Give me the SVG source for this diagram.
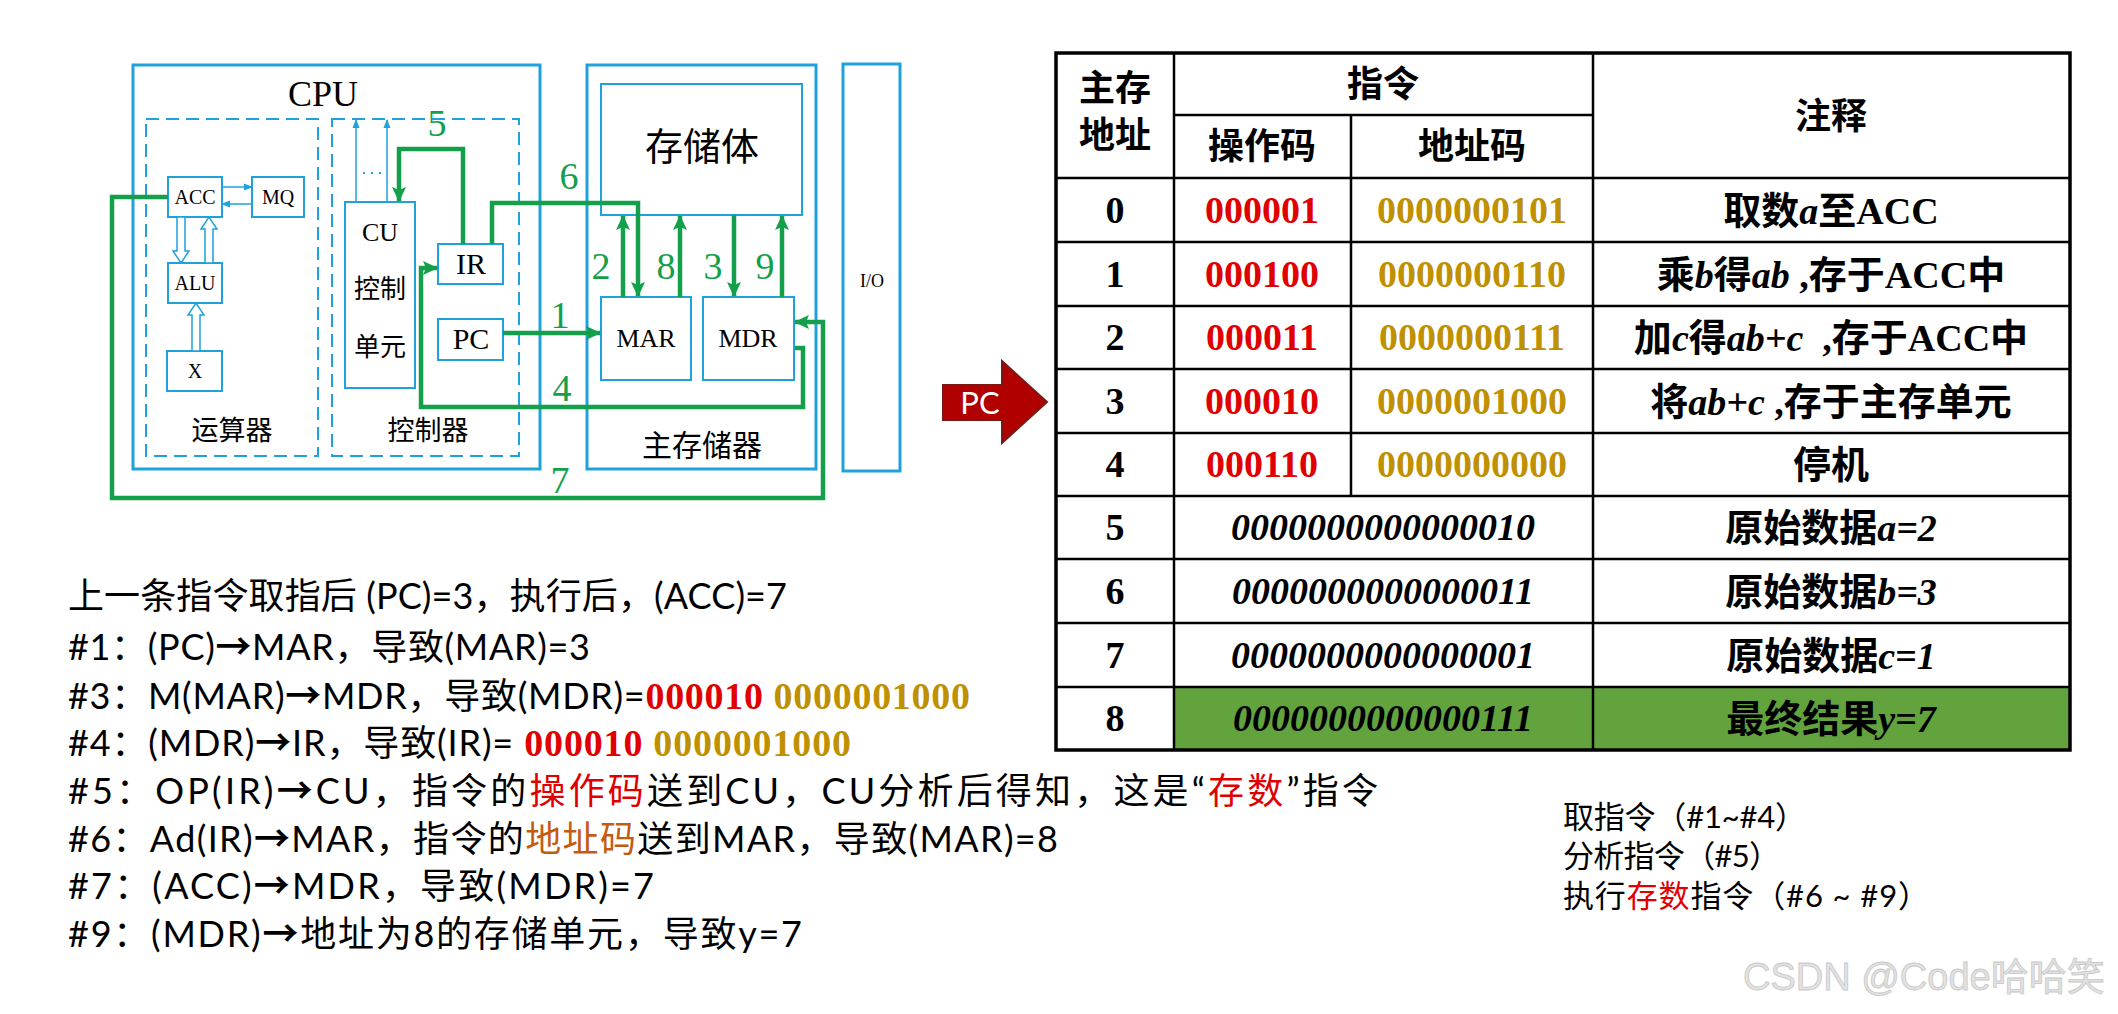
<svg xmlns="http://www.w3.org/2000/svg" width="2118" height="1014" viewBox="0 0 2118 1014">
<style>
.bx{fill:none;stroke:#1fa2dc;stroke-width:3}
.ib{fill:#fff;stroke:#1fa2dc;stroke-width:2}
.dash{fill:none;stroke:#1fa2dc;stroke-width:2;stroke-dasharray:13 7}
.g{fill:none;stroke:#14a04a;stroke-width:4.5;stroke-linejoin:miter}
.bl{fill:none;stroke:#1fa2dc;stroke-width:1.5}
.hol{fill:#fff;stroke:#1fa2dc;stroke-width:1.5}
.ser{font-family:"Liberation Serif","Noto Sans CJK SC",serif;fill:#000}
.num{font-family:"Liberation Serif",serif;fill:#14a04a;font-size:38px;text-anchor:middle}
.cj{font-family:"Noto Sans CJK SC",serif;fill:#000}
.tb{font-family:"Liberation Serif","Noto Sans CJK SC",serif;font-weight:bold;fill:#000;font-size:38px;text-anchor:middle}
.th{font-family:"Noto Sans CJK SC",serif;font-weight:bold;fill:#000;font-size:36px;text-anchor:middle}
.red{fill:#e00000}
.gold{fill:#bf9000}
.it{font-style:italic}
.tline{stroke:#000;stroke-width:2.5}
.body{font-family:Lato,"Noto Sans CJK SC",sans-serif;font-size:36px;fill:#000}
.bd{font-family:"Liberation Serif",serif;font-weight:bold}
.ar{font-family:"Noto Sans CJK SC",sans-serif;font-weight:bold}
.side{font-family:Lato,"Noto Sans CJK SC",sans-serif;font-size:31px;fill:#000}
</style>
<defs>
<marker id="ga" markerWidth="16" markerHeight="16" refX="14" refY="8" orient="auto" markerUnits="userSpaceOnUse"><path d="M0,1 L15,8 L0,15 L3,8 z" fill="#14a04a"/></marker>
<marker id="ba" markerWidth="9" markerHeight="8" refX="8" refY="4" orient="auto" markerUnits="userSpaceOnUse"><path d="M0,0.5 L9,4 L0,7.5 z" fill="#1fa2dc"/></marker>
</defs>
<rect width="2118" height="1014" fill="#fff"/>

<g id="cpu">
<rect class="bx" x="133" y="65" width="407" height="404"/>
<text class="ser" x="323" y="106" font-size="36" text-anchor="middle">CPU</text>
</g>
<g id="alu-unit">
<rect class="dash" x="146" y="119" width="172" height="337"/>
<text class="cj" x="232" y="440" font-size="27" text-anchor="middle">运算器</text>
</g>
<g id="ctrl-unit">
<rect class="dash" x="332" y="119" width="187" height="337"/>
<text class="cj" x="428" y="440" font-size="27" text-anchor="middle">控制器</text>
</g>
<g id="acc"><rect class="ib" x="168" y="177" width="54" height="40"/><text class="ser" x="195" y="204" font-size="20" text-anchor="middle">ACC</text></g>
<g id="mq"><rect class="ib" x="252" y="177" width="52" height="40"/><text class="ser" x="278" y="204" font-size="20" text-anchor="middle">MQ</text></g>
<g id="alu"><rect class="ib" x="168" y="263" width="54" height="40"/><text class="ser" x="195" y="290" font-size="20" text-anchor="middle">ALU</text></g>
<g id="x"><rect class="ib" x="167" y="351" width="55" height="40"/><text class="ser" x="195" y="378" font-size="20" text-anchor="middle">X</text></g>
<g id="cu"><rect class="ib" x="345" y="202" width="70" height="186"/>
<text class="ser" x="380" y="241" font-size="26" text-anchor="middle">CU</text>
<text class="cj" x="380" y="298" font-size="26" text-anchor="middle">控制</text>
<text class="cj" x="380" y="356" font-size="26" text-anchor="middle">单元</text></g>
<g id="ir"><rect class="ib" x="438" y="244" width="65" height="40"/><text class="ser" x="471" y="274" font-size="30" text-anchor="middle">IR</text></g>
<g id="pc"><rect class="ib" x="438" y="319" width="65" height="41"/><text class="ser" x="471" y="349" font-size="30" text-anchor="middle">PC</text></g>

<g id="mem">
<rect class="bx" x="587" y="65" width="229" height="404"/>
<text class="cj" x="702" y="456" font-size="30" text-anchor="middle">主存储器</text>
</g>
<g id="storage"><rect class="ib" x="601" y="84" width="201" height="131"/><text class="cj" x="702" y="160" font-size="38" text-anchor="middle">存储体</text></g>
<g id="mar"><rect class="ib" x="601" y="297" width="90" height="83"/><text class="ser" x="646" y="347" font-size="26" text-anchor="middle">MAR</text></g>
<g id="mdr"><rect class="ib" x="703" y="297" width="91" height="83"/><text class="ser" x="748" y="347" font-size="26" text-anchor="middle">MDR</text></g>
<g id="io"><rect class="bx" x="843" y="64" width="57" height="407"/><text class="ser" x="872" y="287" font-size="18" text-anchor="middle">I/O</text></g>

<g id="connectors">
<line class="bl" x1="222" y1="187" x2="252" y2="187" marker-end="url(#ba)"/>
<line class="bl" x1="252" y1="204" x2="222" y2="204" marker-end="url(#ba)"/>
<line class="bl" x1="356" y1="202" x2="356" y2="120" marker-end="url(#ba)"/>
<line class="bl" x1="387" y1="202" x2="387" y2="120" marker-end="url(#ba)"/>
<line x1="363" y1="173" x2="384" y2="173" stroke="#1fa2dc" stroke-width="2" stroke-dasharray="2 6"/>
<polygon class="hol" points="177,217 177,251 173,251 181,263 189,251 185,251 185,217"/>
<polygon class="hol" points="205,263 205,229 201,229 209,217 217,229 213,229 213,263"/>
<polygon class="hol" points="192,351 192,315 188,315 196,303 204,315 200,315 200,351"/>
<path class="g" d="M463,244 V149 H399 V201" marker-end="url(#ga)"/>
<path class="g" d="M492,244 V203 H638 V296" marker-end="url(#ga)"/>
<path class="g" d="M503,333 H600" marker-end="url(#ga)"/>
<path class="g" d="M795,348 H803 V407 H421 V268 H437" marker-end="url(#ga)"/>
<path class="g" d="M168,197 H112 V498 H823 V322 H795" marker-end="url(#ga)"/>
<path class="g" d="M623,297 V216" marker-end="url(#ga)"/>
<path class="g" d="M680,297 V216" marker-end="url(#ga)"/>
<path class="g" d="M734,215 V296" marker-end="url(#ga)"/>
<path class="g" d="M782,297 V216" marker-end="url(#ga)"/>
<text class="num" x="437" y="136">5</text>
<text class="num" x="569" y="189">6</text>
<text class="num" x="560" y="328">1</text>
<text class="num" x="562" y="401">4</text>
<text class="num" x="560" y="493">7</text>
<text class="num" x="601" y="279">2</text>
<text class="num" x="666" y="279">8</text>
<text class="num" x="713" y="279">3</text>
<text class="num" x="765" y="279">9</text>
</g>

<g id="pc-arrow">
<polygon points="943,385 1002,385 1002,361 1047,402 1002,443 1002,420 943,420" fill="#b00000" stroke="#7a1818" stroke-width="2"/>
<text x="980" y="414" font-family="Lato,'Open Sans',sans-serif" font-size="31" fill="#fff" text-anchor="middle">PC</text>
</g>

<g id="table">
<rect x="1174" y="687" width="896" height="63" fill="#62a33e"/>
<line class="tline" x1="1174" y1="115" x2="1593" y2="115"/>
<line class="tline" x1="1056" y1="178" x2="2070" y2="178"/>
<line class="tline" x1="1056" y1="242" x2="2070" y2="242"/>
<line class="tline" x1="1056" y1="306" x2="2070" y2="306"/>
<line class="tline" x1="1056" y1="369" x2="2070" y2="369"/>
<line class="tline" x1="1056" y1="433" x2="2070" y2="433"/>
<line class="tline" x1="1056" y1="496" x2="2070" y2="496"/>
<line class="tline" x1="1056" y1="559" x2="2070" y2="559"/>
<line class="tline" x1="1056" y1="623" x2="2070" y2="623"/>
<line class="tline" x1="1056" y1="687" x2="2070" y2="687"/>
<line class="tline" x1="1174" y1="53" x2="1174" y2="750"/>
<line class="tline" x1="1351" y1="115" x2="1351" y2="496"/>
<line class="tline" x1="1593" y1="53" x2="1593" y2="750"/>
<rect x="1056" y="53" width="1014" height="697" fill="none" stroke="#000" stroke-width="3.5"/>
<text class="th" x="1115" y="101">主存</text>
<text class="th" x="1115" y="148">地址</text>
<text class="th" x="1383" y="97">指令</text>
<text class="th" x="1262" y="159">操作码</text>
<text class="th" x="1472" y="159">地址码</text>
<text class="th" x="1831" y="129">注释</text>

<text class="tb" x="1115" y="223">0</text>
<text class="tb red" x="1262" y="223">000001</text>
<text class="tb gold" x="1472" y="223">0000000101</text>
<text class="tb" x="1831" y="224">取数<tspan class="it">a</tspan>至ACC</text>

<text class="tb" x="1115" y="287">1</text>
<text class="tb red" x="1262" y="287">000100</text>
<text class="tb gold" x="1472" y="287">0000000110</text>
<text class="tb" x="1831" y="288">乘<tspan class="it">b</tspan>得<tspan class="it">ab</tspan> ,存于ACC中</text>

<text class="tb" x="1115" y="350">2</text>
<text class="tb red" x="1262" y="350">000011</text>
<text class="tb gold" x="1472" y="350">0000000111</text>
<text class="tb" x="1831" y="351" xml:space="preserve">加<tspan class="it">c</tspan>得<tspan class="it">ab+c</tspan>  ,存于ACC中</text>

<text class="tb" x="1115" y="414">3</text>
<text class="tb red" x="1262" y="414">000010</text>
<text class="tb gold" x="1472" y="414">0000001000</text>
<text class="tb" x="1831" y="415">将<tspan class="it">ab+c</tspan> ,存于主存单元</text>

<text class="tb" x="1115" y="477">4</text>
<text class="tb red" x="1262" y="477">000110</text>
<text class="tb gold" x="1472" y="477">0000000000</text>
<text class="tb" x="1831" y="478">停机</text>

<text class="tb" x="1115" y="540">5</text>
<text class="tb it" x="1383" y="540">0000000000000010</text>
<text class="tb" x="1831" y="541">原始数据<tspan class="it">a=2</tspan></text>

<text class="tb" x="1115" y="604">6</text>
<text class="tb it" x="1383" y="604">0000000000000011</text>
<text class="tb" x="1831" y="605">原始数据<tspan class="it">b=3</tspan></text>

<text class="tb" x="1115" y="668">7</text>
<text class="tb it" x="1383" y="668">0000000000000001</text>
<text class="tb" x="1831" y="669">原始数据<tspan class="it">c=1</tspan></text>

<text class="tb" x="1115" y="731">8</text>
<text class="tb it" x="1383" y="731">0000000000000111</text>
<text class="tb" x="1831" y="732">最终结果<tspan class="it">y=7</tspan></text>
</g>

<g id="steps">
<text class="body" x="68" y="609" textLength="719" lengthAdjust="spacing">上一条指令取指后 (PC)=3，执行后，(ACC)=7</text>
<text class="body" x="68" y="660" textLength="522" lengthAdjust="spacing">#1：(PC)<tspan class="ar">→</tspan>MAR，导致(MAR)=3</text>
<text class="body" x="68" y="709" textLength="902" lengthAdjust="spacing">#3：M(MAR)<tspan class="ar">→</tspan>MDR，导致(MDR)=<tspan class="bd red" font-size="38">000010</tspan> <tspan class="bd gold" font-size="38">0000001000</tspan></text>
<text class="body" x="68" y="756" textLength="783" lengthAdjust="spacing">#4：(MDR)<tspan class="ar">→</tspan>IR，导致(IR)= <tspan class="bd red" font-size="38">000010</tspan> <tspan class="bd gold" font-size="38">0000001000</tspan></text>
<text class="body" x="68" y="804" textLength="1310" lengthAdjust="spacing">#5：OP(IR)<tspan class="ar">→</tspan>CU，指令的<tspan class="red">操作码</tspan>送到CU，CU分析后得知，这是“<tspan class="red">存数</tspan>”指令</text>
<text class="body" x="68" y="852" textLength="990" lengthAdjust="spacing">#6：Ad(IR)<tspan class="ar">→</tspan>MAR，指令的<tspan fill="#c55a11">地址码</tspan>送到MAR，导致(MAR)=8</text>
<text class="body" x="68" y="899" textLength="586" lengthAdjust="spacing">#7：(ACC)<tspan class="ar">→</tspan>MDR，导致(MDR)=7</text>
<text class="body" x="68" y="947" textLength="734" lengthAdjust="spacing">#9：(MDR)<tspan class="ar">→</tspan>地址为8的存储单元，导致y=7</text>
</g>

<g id="phases">
<text class="side" x="1563" y="828" textLength="243" lengthAdjust="spacing">取指令（#1~#4）</text>
<text class="side" x="1563" y="867" textLength="217" lengthAdjust="spacing">分析指令（#5）</text>
<text class="side" x="1563" y="907" textLength="366" lengthAdjust="spacing">执行<tspan class="red">存数</tspan>指令（#6 ~ #9）</text>
</g>

<text x="1743" y="990" font-family="'Liberation Sans','Noto Sans CJK SC',sans-serif" font-size="38" fill="#e2e2e2" stroke="#c8c8c8" stroke-width="0.8">CSDN @Code哈哈笑</text>
</svg>
